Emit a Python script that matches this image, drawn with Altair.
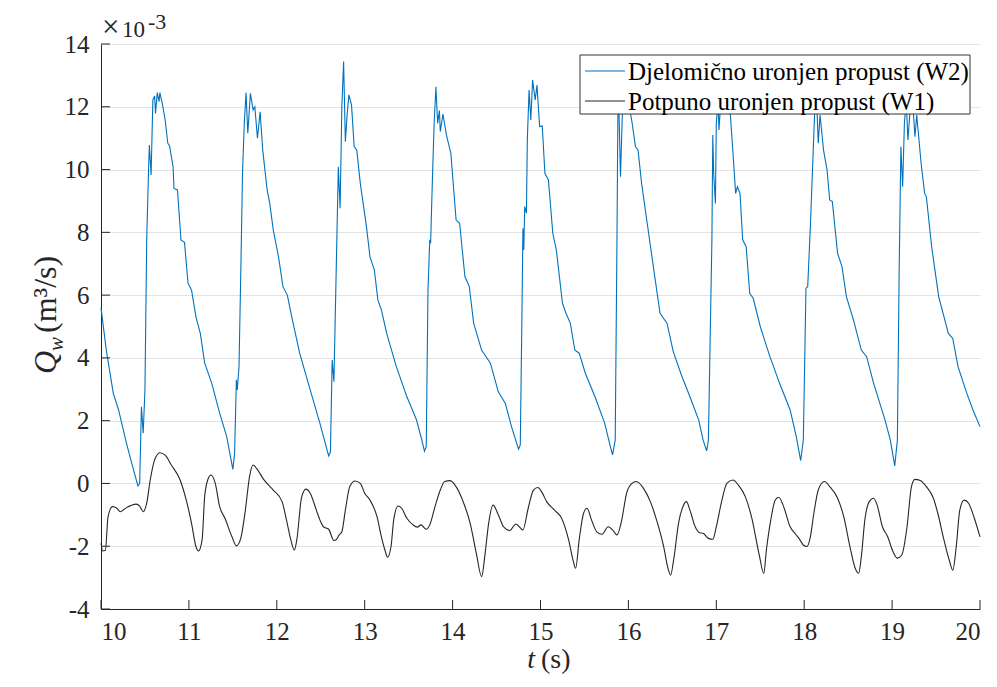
import altair as alt
import pandas as pd

LABEL_W2 = "Djelomično uronjen propust (W2)"
LABEL_W1 = "Potpuno uronjen propust (W1)"
SERIES = [LABEL_W2, LABEL_W1]
COLORS = ["#0072BD", "#262626"]

T_W2 = [10.00, 10.06, 10.14, 10.20, 10.29, 10.37, 10.42, 10.44, 10.46, 10.48, 10.50, 10.52, 10.54, 10.55, 10.57,
        10.59, 10.61, 10.62, 10.64, 10.66, 10.67, 10.70, 10.73, 10.76, 10.78, 10.82, 10.83, 10.87, 10.91, 10.95,
        10.99, 11.03, 11.08, 11.13, 11.18, 11.26, 11.35, 11.43, 11.50, 11.52, 11.54, 11.55, 11.57, 11.59, 11.61,
        11.63, 11.65, 11.67, 11.70, 11.73, 11.75, 11.78, 11.81, 11.84, 11.89, 11.92, 11.96, 12.02, 12.07, 12.12,
        12.17, 12.26, 12.38, 12.49, 12.59, 12.61, 12.63, 12.65, 12.67, 12.70, 12.72, 12.74, 12.76, 12.78, 12.80,
        12.82, 12.85, 12.88, 12.91, 12.95, 13.02, 13.06, 13.11, 13.15, 13.19, 13.25, 13.36, 13.48, 13.59, 13.65,
        13.68, 13.70, 13.72, 13.74, 13.75, 13.77, 13.79, 13.81, 13.83, 13.85, 13.86, 13.89, 13.93, 13.98, 14.04,
        14.08, 14.14, 14.19, 14.24, 14.33, 14.43, 14.52, 14.60, 14.67, 14.75, 14.77, 14.79, 14.80, 14.81, 14.82,
        14.84, 14.85, 14.87, 14.89, 14.91, 14.94, 14.96, 14.99, 15.02, 15.05, 15.09, 15.14, 15.18, 15.25, 15.29,
        15.34, 15.39, 15.44, 15.51, 15.62, 15.73, 15.79, 15.82, 15.85, 15.87, 15.88, 15.89, 15.91, 15.93, 15.95,
        15.97, 15.99, 16.01, 16.04, 16.08, 16.11, 16.15, 16.23, 16.30, 16.36, 16.44, 16.51, 16.61, 16.70, 16.80,
        16.85, 16.89, 16.91, 16.93, 16.95, 16.96, 16.97, 16.99, 17.00, 17.02, 17.03, 17.05, 17.08, 17.12, 17.16,
        17.19, 17.22, 17.24, 17.27, 17.30, 17.34, 17.38, 17.42, 17.50, 17.61, 17.72, 17.84, 17.91, 17.96, 17.99,
        18.01, 18.02, 18.04, 18.07, 18.10, 18.12, 18.14, 18.16, 18.18, 18.22, 18.26, 18.29, 18.32, 18.38, 18.43,
        18.48, 18.56, 18.65, 18.71, 18.79, 18.92, 18.98, 19.03, 19.06, 19.08, 19.10, 19.12, 19.14, 19.16, 19.18,
        19.21, 19.24, 19.26, 19.28, 19.33, 19.37, 19.39, 19.45, 19.53, 19.64, 19.69, 19.75, 19.85, 19.92, 20.00]
Q_W2 = [5.60, 4.25, 2.87, 2.34, 1.28, 0.43, -0.08, 0.00, 2.44, 1.60, 2.98, 7.76, 9.88, 10.78, 9.83,
        12.22, 12.34, 11.79, 12.45, 12.16, 12.45, 12.06, 11.58, 10.84, 10.75, 10.09, 9.40, 9.35, 7.76, 7.68,
        6.38, 6.16, 5.31, 4.78, 3.83, 3.19, 2.24, 1.49, 0.45, 0.96, 3.30, 2.98, 3.72, 6.69, 9.88,
        11.47, 12.45, 11.16, 12.43, 11.90, 12.00, 11.00, 11.84, 10.62, 9.35, 8.92, 8.07, 7.22, 6.27, 6.00,
        5.31, 4.15, 2.98, 1.92, 0.88, 1.00, 3.93, 3.24, 6.00, 10.09, 8.77, 12.00, 13.44, 10.89, 11.74,
        12.38, 12.06, 10.73, 10.62, 9.56, 8.18, 7.22, 6.80, 5.84, 5.53, 4.78, 3.72, 2.76, 2.02, 1.38,
        1.03, 1.17, 6.16, 7.76, 7.65, 9.67, 11.47, 12.64, 11.47, 11.88, 11.21, 11.77, 11.10, 10.52, 8.39,
        8.29, 6.59, 6.27, 5.10, 4.25, 3.83, 2.92, 2.55, 1.81, 1.09, 1.23, 5.63, 8.13, 7.44, 8.82,
        8.61, 10.94, 12.53, 11.58, 12.85, 12.22, 12.69, 11.37, 11.39, 9.88, 9.67, 7.97, 7.44, 5.74, 5.42,
        5.10, 4.25, 4.15, 3.51, 2.76, 1.92, 1.23, 0.91, 1.38, 7.76, 11.68, 12.20, 9.77, 11.68, 12.30,
        11.90, 12.40, 12.00, 11.53, 10.73, 10.62, 9.56, 7.97, 6.59, 5.42, 5.10, 4.20, 3.40, 2.76, 2.02,
        1.38, 1.04, 1.38, 4.57, 7.76, 11.10, 9.88, 8.92, 11.47, 12.20, 11.26, 12.10, 12.30, 11.90, 11.74,
        10.52, 9.24, 9.45, 9.24, 7.76, 7.54, 6.06, 5.90, 5.00, 4.04, 3.19, 2.34, 1.49, 0.73, 1.38,
        4.57, 6.22, 6.27, 8.18, 10.41, 11.90, 12.30, 10.84, 11.74, 10.62, 9.99, 9.03, 8.98, 7.33, 6.91,
        5.95, 5.21, 4.25, 4.04, 3.19, 2.02, 1.38, 0.56, 1.38, 6.69, 10.73, 9.45, 11.47, 12.20, 10.94,
        12.10, 11.90, 11.05, 11.74, 10.20, 9.24, 9.13, 7.54, 5.95, 4.78, 4.62, 3.72, 2.87, 2.34, 1.81]

T_W1 = [10.00, 10.02, 10.05, 10.08, 10.13, 10.18, 10.22, 10.29, 10.40, 10.44, 10.48, 10.52, 10.56, 10.61, 10.67,
        10.73, 10.80, 10.90, 10.97, 11.03, 11.08, 11.11, 11.15, 11.18, 11.22, 11.25, 11.30, 11.35, 11.41, 11.49,
        11.54, 11.59, 11.64, 11.69, 11.73, 11.77, 11.85, 11.96, 12.06, 12.11, 12.16, 12.20, 12.23, 12.28, 12.33,
        12.38, 12.45, 12.49, 12.53, 12.59, 12.65, 12.68, 12.71, 12.74, 12.78, 12.83, 12.89, 12.95, 13.00, 13.06,
        13.14, 13.19, 13.23, 13.26, 13.30, 13.33, 13.38, 13.42, 13.48, 13.55, 13.60, 13.64, 13.70, 13.74, 13.80,
        13.86, 13.91, 13.97, 14.05, 14.12, 14.20, 14.27, 14.33, 14.37, 14.41, 14.46, 14.52, 14.58, 14.65, 14.72,
        14.80, 14.86, 14.92, 14.97, 15.02, 15.07, 15.16, 15.24, 15.32, 15.37, 15.40, 15.44, 15.49, 15.53, 15.58,
        15.64, 15.70, 15.77, 15.82, 15.87, 15.92, 15.98, 16.04, 16.09, 16.17, 16.25, 16.32, 16.40, 16.45, 16.48,
        16.52, 16.57, 16.62, 16.66, 16.70, 16.76, 16.81, 16.85, 16.91, 16.96, 17.00, 17.06, 17.12, 17.19, 17.25,
        17.33, 17.40, 17.49, 17.54, 17.57, 17.62, 17.67, 17.71, 17.76, 17.84, 17.90, 17.94, 17.99, 18.03, 18.07,
        18.11, 18.16, 18.23, 18.29, 18.38, 18.45, 18.52, 18.58, 18.62, 18.65, 18.69, 18.74, 18.79, 18.83, 18.89,
        18.95, 19.01, 19.06, 19.11, 19.17, 19.22, 19.26, 19.32, 19.39, 19.47, 19.52, 19.59, 19.65, 19.69, 19.73,
        19.77, 19.82, 19.87, 19.93, 20.00]
Q_W1 = [-1.90, -2.15, -2.13, -1.06, -0.74, -0.79, -0.90, -0.77, -0.66, -0.72, -0.90, -0.63, 0.11, 0.75, 0.98,
        0.90, 0.59, 0.11, -0.53, -1.27, -2.01, -2.15, -1.80, -0.40, 0.16, 0.27, 0.00, -0.74, -1.11, -1.70,
        -1.99, -1.75, -0.90, 0.22, 0.59, 0.48, 0.13, -0.21, -0.58, -1.16, -1.80, -2.12, -1.75, -0.47, -0.18,
        -0.31, -0.85, -1.16, -1.38, -1.46, -1.82, -1.78, -1.64, -1.54, -0.85, -0.10, 0.08, 0.00, -0.31, -0.53,
        -1.06, -1.70, -2.12, -2.35, -2.00, -1.16, -0.72, -0.79, -1.11, -1.32, -1.39, -1.32, -1.46, -1.32, -0.74,
        -0.21, 0.06, 0.09, -0.15, -0.58, -1.27, -2.23, -2.97, -2.23, -1.27, -0.69, -1.00, -1.38, -1.50, -1.29,
        -1.48, -0.79, -0.21, -0.13, -0.30, -0.58, -0.85, -1.11, -1.80, -2.44, -2.70, -1.80, -0.95, -0.79, -1.16,
        -1.54, -1.62, -1.38, -1.48, -1.64, -1.22, -0.31, 0.00, 0.06, -0.15, -0.58, -1.16, -2.00, -2.70, -2.92,
        -2.33, -1.27, -0.74, -0.58, -0.85, -1.38, -1.57, -1.59, -1.75, -1.78, -1.38, -0.58, 0.00, 0.11, -0.05,
        -0.42, -1.06, -2.30, -2.87, -2.12, -1.16, -0.53, -0.44, -0.69, -1.38, -1.61, -1.75, -1.96, -2.01, -1.70,
        -0.95, -0.21, 0.06, -0.10, -0.47, -1.06, -2.01, -2.70, -2.86, -2.33, -1.16, -0.58, -0.47, -0.69, -1.38,
        -1.70, -2.17, -2.38, -2.28, -1.38, -0.10, 0.13, 0.09, -0.10, -0.47, -0.95, -1.80, -2.44, -2.76, -2.01,
        -0.85, -0.53, -0.63, -1.06, -1.70]

X_TICKS = list(range(10, 21))
Y_TICKS = list(range(-4, 15, 2))

W, H = 879, 565
FONT = "Liberation Serif, Times New Roman, DejaVu Serif, serif"
INK = "#262626"
LBL = "replace(datum.label, '\u2212', '-')"

df_w2 = pd.DataFrame({"t": T_W2, "q": Q_W2, "series": LABEL_W2})
df_w1 = pd.DataFrame({"t": T_W1, "q": Q_W1, "series": LABEL_W1})

xscale = alt.Scale(domain=[10, 20], nice=False, zero=False)
yscale = alt.Scale(domain=[-4, 14], nice=False, zero=False)
cscale = alt.Scale(domain=SERIES, range=COLORS)

x_axis = alt.Axis(values=X_TICKS, format="d", grid=False, ticks=False,
                  labelFont=FONT, labelFontSize=25, labelColor=INK, labelPadding=10,
                  domainColor=INK, domainWidth=1)
y_axis = alt.Axis(values=Y_TICKS, format="d", grid=True, gridColor="#e3e3e3", gridWidth=1,
                  ticks=False, labelFont=FONT, labelFontSize=25, labelColor=INK, labelExpr=LBL,
                  labelPadding=12, domainColor=INK, domainWidth=1)
x_enc = alt.X("t:Q", scale=xscale, title=None, axis=x_axis)
y_enc = alt.Y("q:Q", scale=yscale, title=None, axis=y_axis)

line_w2 = alt.Chart(df_w2).mark_line(strokeWidth=1.1, interpolate="linear").encode(
    x=x_enc, y=y_enc, color=alt.Color("series:N", scale=cscale, legend=None))
line_w1 = alt.Chart(df_w1).mark_line(strokeWidth=1.1, interpolate="monotone").encode(
    x=x_enc, y=y_enc, color=alt.Color("series:N", scale=cscale, legend=None))

# inward ticks
xt = alt.Chart(pd.DataFrame({"t": X_TICKS})).mark_rule(color=INK, strokeWidth=1).encode(
    x=x_enc, y=alt.value(H), y2=alt.value(H - 9))
yt = alt.Chart(pd.DataFrame({"q": Y_TICKS})).mark_rule(color=INK, strokeWidth=1).encode(
    y=y_enc, x=alt.value(0), x2=alt.value(9))


def txt(s, x, y, size, style="normal", align="left", angle=0):
    return alt.Chart(pd.DataFrame({"s": [s]})).mark_text(
        font=FONT, fontSize=size, fontStyle=style, color=INK, align=align,
        baseline="alphabetic", angle=angle).encode(text="s:N", x=alt.value(x), y=alt.value(y))


# exponent label
exp_x = txt("×", 1, -7, 31)
exp_10 = txt("10", 21, -7, 23)
exp_pow = txt("-3", 47, -15, 22)

# axis titles
xt_t = txt("t", 434, 624, 28, "italic", "right")
xt_s = txt("(s)", 440, 624, 28)
yt_q = txt("Q", -45, 330, 32, "italic", angle=270)
yt_w = txt("w", -38, 307, 21, "italic", angle=270)
yt_u = txt("(m³/s)", -45, 289, 32, angle=270)

# legend (custom)
leg_box = alt.Chart(pd.DataFrame({"a": [0]})).mark_rect(fill="white", stroke="#333333", strokeWidth=1).encode(
    x=alt.value(479), x2=alt.value(869), y=alt.value(11), y2=alt.value(70))
leg_layers = []
for i, (name, col) in enumerate(zip(SERIES, COLORS)):
    yy = 27 + 30 * i
    d = pd.DataFrame({"series": [name]})
    leg_layers.append(alt.Chart(d).mark_rule(strokeWidth=1.1, color=col).encode(
        x=alt.value(484), x2=alt.value(524), y=alt.value(yy)))
    leg_layers.append(alt.Chart(d).mark_text(font=FONT, fontSize=25, color="black", align="left",
                                             baseline="middle").encode(
        x=alt.value(527), y=alt.value(yy + 1), text="series:N"))

chart = alt.layer(
    line_w2, line_w1, xt, yt, exp_x, exp_10, exp_pow, xt_t, xt_s, yt_q, yt_w, yt_u,
    leg_box, *leg_layers
).properties(
    width=W, height=H,
    autosize=alt.AutoSizeParams(type="none"),
    padding={"left": 93, "top": 36, "right": 9, "bottom": 75},
    background="white"
).configure_view(strokeWidth=0)

chart.save("out.html", embed_options={"renderer": "svg", "actions": False})
